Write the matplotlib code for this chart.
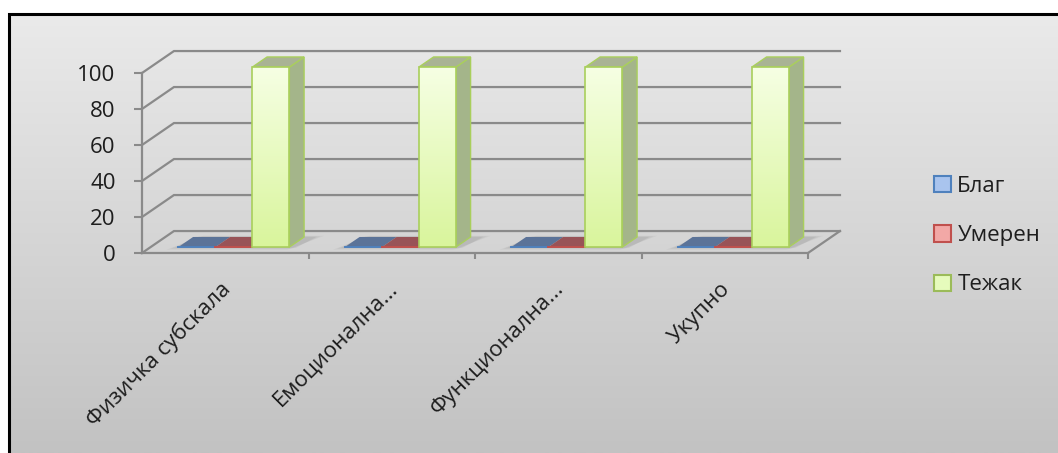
import numpy as np
import matplotlib
matplotlib.use("Agg")
import matplotlib.pyplot as plt
import matplotlib.transforms as mtransforms
from matplotlib.patches import Polygon, Patch
from matplotlib.colors import LinearSegmentedColormap

plt.rcParams['font.family'] = ['Open Sans', 'DejaVu Sans']

# ---- data ----
categories = ['Физичка субскала', 'Емоционална...', 'Функционална...', 'Укупно']
series_names = ['Благ', 'Умерен', 'Тежак']
blag = [0, 0, 0, 0]
umeren = [0, 0, 0, 0]
tezak = [100, 100, 100, 100]
y_ticks = [0, 20, 40, 60, 80, 100]

# ---- styling ----
W, H = 1058, 453
TEXT = '#1e1e1e'
GRID = '#8a8a8a'
front_edge = ['#4f81bd', '#c0504d', '#9bbb59']
tile_col = ['#5b7398', '#985357', '#b4c48c']
front_grad = ['#f6ffe4', '#d9f59c']
side_col = '#a4b58a'
top_col = '#a9b394'
bar_edge = '#a9cf5c'
legend_face = ['#a9c4ee', '#f2a8a6', '#e6fbbc']

fig = plt.figure(figsize=(W / 100, H / 100), dpi=100)
fig.patch.set_facecolor('white')

# chart area background with a vertical gradient and a black frame
bg = fig.add_axes([0, 0, 1, 1], zorder=-10)
bg.set_xlim(0, W)
bg.set_ylim(H, 0)
bg.axis('off')
grad = np.linspace(0, 1, 256).reshape(-1, 1)
bg.imshow(grad, cmap=LinearSegmentedColormap.from_list('bg', ['#eaeaea', '#c2c2c2']),
          extent=[9, W, H, 14], aspect='auto')
bg.plot([9, 9, W], [H, 14, 14], color='black', lw=2.2, solid_joinstyle='miter')
bg.set_xlim(0, W)
bg.set_ylim(H, 0)

# plot axes: x in category units, y in values
ax = fig.add_axes([142 / W, (H - 253) / H, (808 - 142) / W, 180 / H])
ax.patch.set_alpha(0)
ncat = len(categories)
ax.set_xlim(0, ncat)
ax.set_ylim(0, 100)

# depth of the 3-D box, expressed in data units
DX, DY = 0.192, 12.2

# back-wall gridlines (each bends at the left wall)
for v in y_ticks:
    ax.plot([0, DX, ncat + DX], [v, v + DY, v + DY], color=GRID, lw=1.6,
            clip_on=False, zorder=1, solid_joinstyle='miter')
ax.plot([ncat, ncat + DX], [0, DY], color=GRID, lw=1.6, clip_on=False, zorder=1)

# bars
series = [blag, umeren, tezak]
nser = len(series)
bw = 1.0 / (nser + 1.5)
start = 0.75 * bw
f0, f1 = 0.27, 0.73
xc = np.arange(ncat)

# soft floor shadow below each group
for j in xc:
    gl = j + start
    gr = j + start + nser * bw
    for k, a in enumerate([0.06, 0.07, 0.09]):
        e = 0.05 - k * 0.018
        d0, d1 = f0 - 0.12 + k * 0.04, f1 + 0.05 - k * 0.02
        pts = [(gl - e + d0 * DX, d0 * DY), (gr + 0.06 - e + d0 * DX, d0 * DY),
               (gr + 0.06 + e + d1 * DX, d1 * DY), (gl + e + d1 * DX, d1 * DY)]
        ax.add_patch(Polygon(pts, closed=True, facecolor='#555555', edgecolor='none',
                             alpha=a, clip_on=False, zorder=2))

front_cmap = LinearSegmentedColormap.from_list('front', front_grad)
for i, vals in enumerate(series):
    left = xc + start + i * bw
    for l, v in zip(left, vals):
        r = l + bw
        if v == 0:
            tile = [(l + f0 * DX, f0 * DY), (r + f0 * DX, f0 * DY),
                    (r + f1 * DX, f1 * DY), (l + f1 * DX, f1 * DY)]
            ax.add_patch(Polygon(tile, closed=True, facecolor=tile_col[i],
                                 edgecolor='none', clip_on=False, zorder=3))
            ax.plot([l + f0 * DX, r + f0 * DX], [f0 * DY, f0 * DY],
                    color=front_edge[i], lw=1.4, clip_on=False, zorder=3)
            continue
        base = f0 * DY
        side = [(r + f0 * DX, base), (r + f1 * DX, f1 * DY),
                (r + f1 * DX, f1 * DY + v), (r + f0 * DX, base + v)]
        top = [(l + f0 * DX, base + v), (r + f0 * DX, base + v),
               (r + f1 * DX, f1 * DY + v), (l + f1 * DX, f1 * DY + v)]
        ax.add_patch(Polygon(side, closed=True, facecolor=side_col, edgecolor=bar_edge,
                             lw=1.0, clip_on=False, zorder=4))
        ax.add_patch(Polygon(top, closed=True, facecolor=top_col, edgecolor=bar_edge,
                             lw=1.0, clip_on=False, zorder=4))
        b = ax.bar(l + f0 * DX, v, width=bw, bottom=base, align='edge',
                   facecolor='none', edgecolor=bar_edge, lw=1.2,
                   clip_on=False, zorder=6)[0]
        im = ax.imshow(grad, cmap=front_cmap, aspect='auto', origin='upper',
                       extent=[b.get_x(), b.get_x() + b.get_width(),
                               b.get_y(), b.get_y() + b.get_height()], zorder=5)
        im.set_clip_path(b)

ax.set_xlim(0, ncat)
ax.set_ylim(0, 100)

# axes lines and ticks
for s in ['top', 'right']:
    ax.spines[s].set_visible(False)
for s in ['left', 'bottom']:
    ax.spines[s].set_color(GRID)
    ax.spines[s].set_linewidth(1.6)
    ax.spines[s].set_zorder(7)

ax.set_yticks(y_ticks)
ax.tick_params(axis='y', length=6, width=1.5, color=GRID, pad=13,
               labelsize=16, labelcolor=TEXT)

ax.set_xticks(xc + 0.5)
ax.set_xticklabels(categories, rotation=45, ha='right', rotation_mode='anchor')
ax.set_xticks(np.arange(1, ncat + 1), minor=True)
ax.tick_params(axis='x', which='major', length=0, pad=18, labelsize=16, labelcolor=TEXT)
ax.tick_params(axis='x', which='minor', length=4, width=1.5, color=GRID)
shift = mtransforms.ScaledTranslation(-5 / 100, 0, fig.dpi_scale_trans)
for lab in ax.get_xticklabels():
    lab.set_transform(lab.get_transform() + shift)

# legend
handles = [Patch(facecolor=legend_face[i], edgecolor=front_edge[i], lw=1.5)
           for i in range(nser)]
fig.legend(handles, series_names, loc='upper left',
           bbox_to_anchor=(934 / W, 1 - 176 / H), frameon=False, fontsize=16,
           handlelength=0.75, handleheight=0.75, handletextpad=0.3,
           labelspacing=1.27, borderpad=0, borderaxespad=0, labelcolor=TEXT)

fig.savefig('out.png', dpi=100, facecolor=fig.get_facecolor())
